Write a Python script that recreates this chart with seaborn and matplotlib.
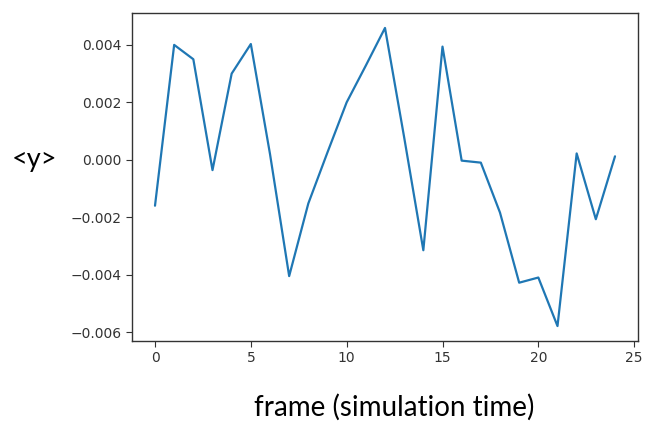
import numpy as np
import pandas as pd
import matplotlib
matplotlib.use("Agg")
import matplotlib.pyplot as plt
import seaborn as sns

frames = list(range(25))
mean_y = [-0.00160, 0.00400, 0.00350, -0.00036, 0.00300, 0.00403, 0.00020,
          -0.00405, -0.00152, 0.00026, 0.00200, 0.00328, 0.00459, 0.00078,
          -0.00315, 0.00394, -0.00003, -0.00010, -0.00184, -0.00428, -0.00410,
          -0.00579, 0.00022, -0.00207, 0.00012]
y_ticks = [-0.006, -0.004, -0.002, 0.000, 0.002, 0.004]
x_ticks = [0, 5, 10, 15, 20, 25]

sns.set_style("ticks")
plt.rcParams['font.family'] = ['DejaVu Sans']

df = pd.DataFrame({"frame": frames, "y": mean_y})

fig = plt.figure(figsize=(6.45, 4.25), dpi=100)
ax = fig.add_axes([132/645, 1 - 341/425, (638 - 132)/645, (341 - 13)/425])
sns.lineplot(data=df, x="frame", y="y", ax=ax, color="#1f77b4", linewidth=1.6)

ax.set_xticks(x_ticks)
ax.set_yticks(y_ticks)
ax.set_yticklabels([f"{v:.3f}".replace("-", "\u2212") for v in y_ticks])
ax.set_xlim(-1.2, 25.2)
ax.set_ylim(-0.00631, 0.00511)
ax.tick_params(labelsize=10, colors="#333333", length=4, width=0.8)
ax.tick_params(axis="both", labelcolor="#333333")
for s in ax.spines.values():
    s.set_color("#333333")
    s.set_linewidth(1.0)
ax.set_xlabel("")
ax.set_ylabel("")

fig.text(35/645, 1 - 159/425, "<y>", fontsize=19.5, family=["Lato", "DejaVu Sans"],
         ha="center", va="center", color="black")
fig.text(394/645, 1 - 407/425, "frame (simulation time)", fontsize=20,
         family=["Lato", "DejaVu Sans"], ha="center", va="center", color="black")

fig.savefig("out.png", dpi=100, facecolor="white")
